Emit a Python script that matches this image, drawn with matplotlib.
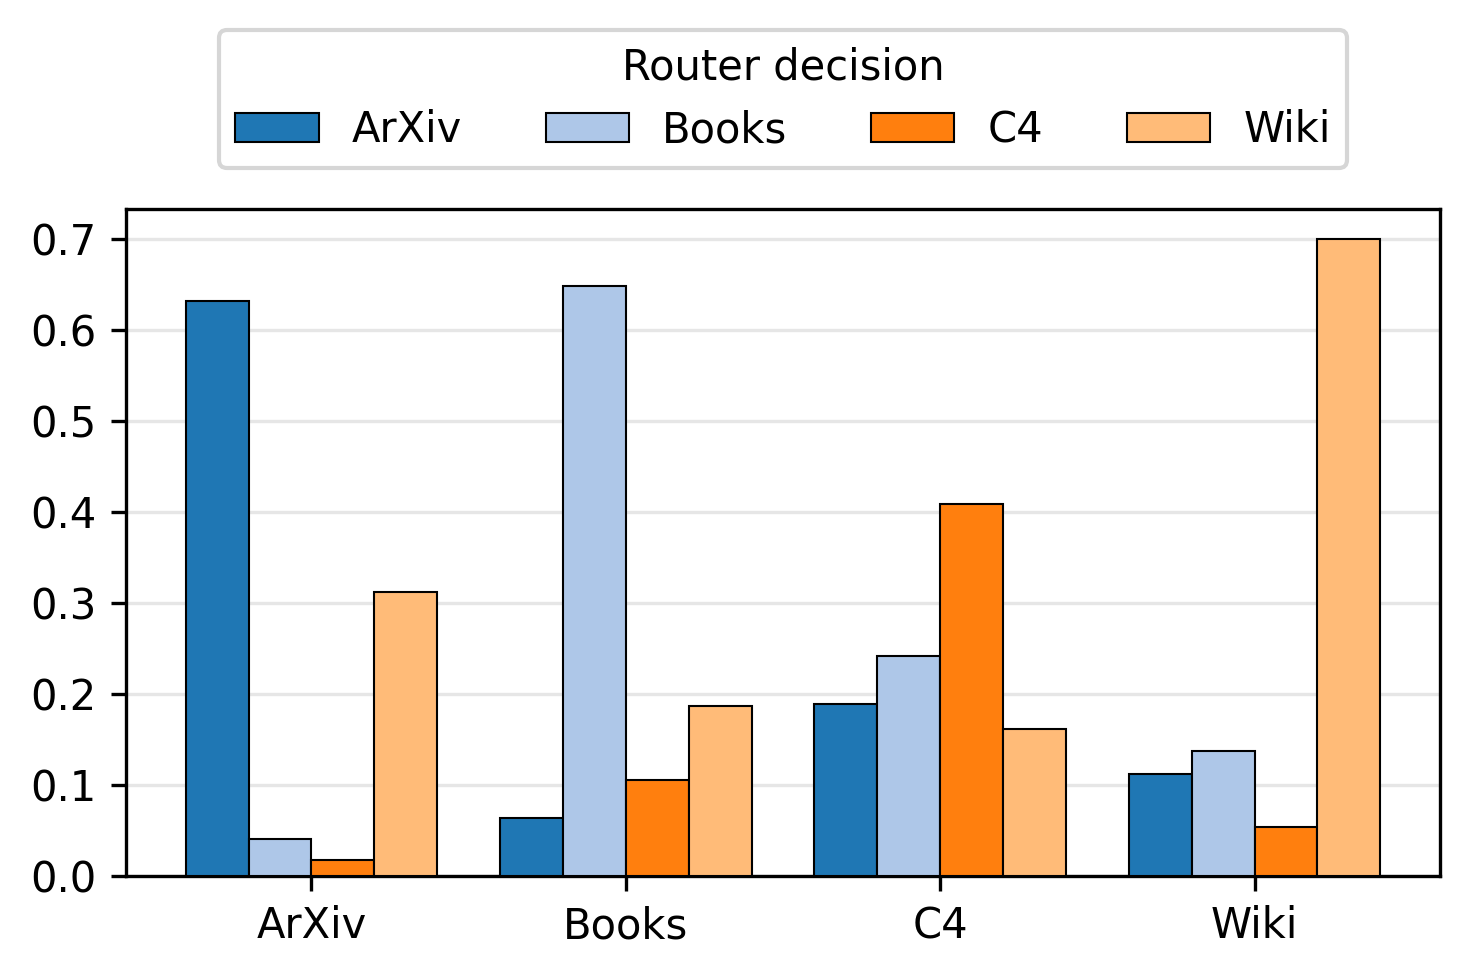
import numpy as np
import matplotlib
matplotlib.use('Agg')
import matplotlib.pyplot as plt

datasets = ['ArXiv', 'Books', 'C4', 'Wiki']
router = ['ArXiv', 'Books', 'C4', 'Wiki']
colors = ['#1f77b4', '#aec7e8', '#ff7f0e', '#ffbb78']

# fraction of tokens routed to each expert, per source dataset
arxiv_share = [0.631, 0.064, 0.189, 0.112]
books_share = [0.041, 0.648, 0.242, 0.137]
c4_share = [0.018, 0.105, 0.409, 0.054]
wiki_share = [0.312, 0.187, 0.161, 0.700]
shares = [arxiv_share, books_share, c4_share, wiki_share]

fig, ax = plt.subplots(figsize=(4.9, 3.2567), dpi=300)
fig.subplots_adjust(left=0.0857, right=0.9796, bottom=0.1034, top=0.7861)

x = np.arange(len(datasets))
width = 0.2
for i, (name, vals) in enumerate(zip(router, shares)):
    ax.bar(x + (i - 1.5) * width, vals, width, color=colors[i],
           edgecolor='black', linewidth=0.5, label=name, zorder=3)

ax.set_xticks(x)
ax.set_xticklabels(datasets)
ax.set_yticks(np.arange(0, 0.71, 0.1))
ax.set_ylim(0, 0.7325)
ax.yaxis.grid(True, color='#e6e6e6', linewidth=0.8, zorder=0)
ax.set_axisbelow(True)
ax.legend(title='Router decision', ncol=4, loc='lower center',
          bbox_to_anchor=(0.5, 1.03))

fig.savefig('out.png', dpi=300)
